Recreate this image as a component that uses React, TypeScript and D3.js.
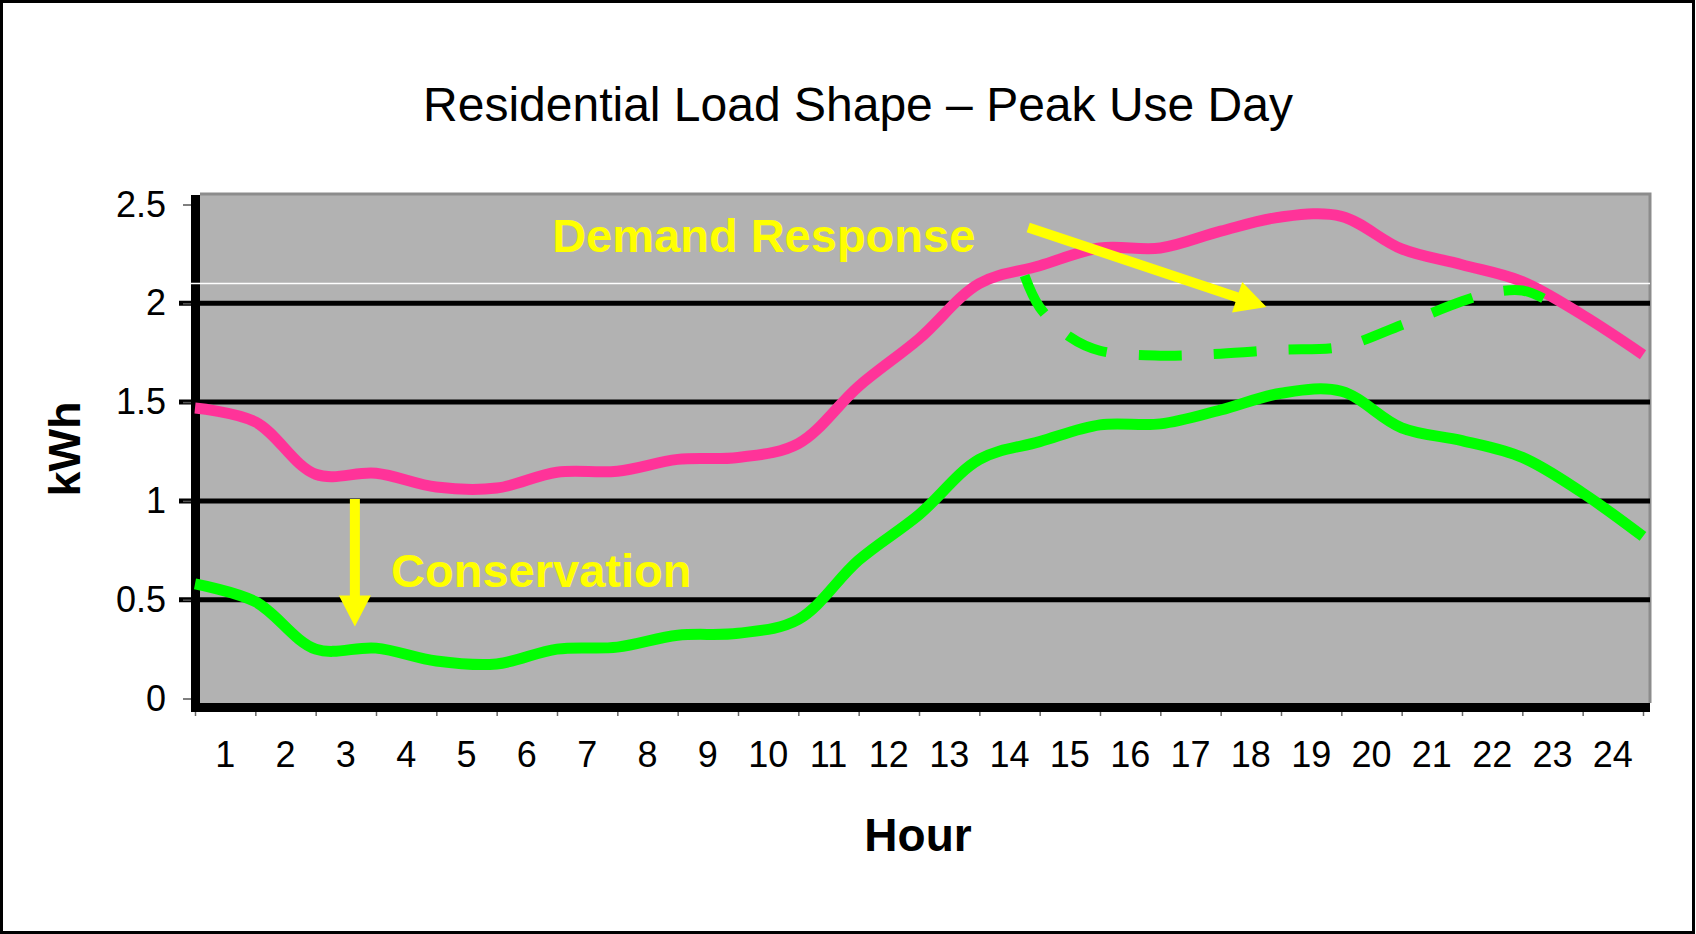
import * as d3 from "d3";
import { useEffect, useRef } from "react";

// hour boundaries (0 = midnight) and the hour-ending labels shown under the axis
const hourMarks = [0, 1, 2, 3, 4, 5, 6, 7, 8, 9, 10, 11, 12, 13, 14, 15, 16, 17, 18, 19, 20, 21, 22, 23, 24];
const hourLabels = ["1", "2", "3", "4", "5", "6", "7", "8", "9", "10", "11", "12", "13", "14", "15", "16", "17", "18", "19", "20", "21", "22", "23", "24"];

// typical peak-day load (pink) and the same day after conservation (green)
const baseLoad = [1.47, 1.4, 1.135, 1.14, 1.07, 1.065, 1.145, 1.15, 1.21, 1.22, 1.29, 1.58, 1.82, 2.1, 2.19, 2.28, 2.28, 2.365, 2.437, 2.44, 2.275, 2.195, 2.11, 1.94, 1.74];
const conservationLoad = [0.58, 0.49, 0.25, 0.255, 0.19, 0.175, 0.25, 0.26, 0.32, 0.33, 0.4, 0.7, 0.93, 1.21, 1.3, 1.385, 1.39, 1.46, 1.545, 1.555, 1.37, 1.305, 1.22, 1.04, 0.82];

// demand response (dashed) over the afternoon peak
const responseHours = [13.75, 14, 14.5, 15, 16, 17, 18, 19, 20, 21, 21.5, 22, 22.35];
const responseLoad = [2.14, 1.98, 1.83, 1.76, 1.735, 1.745, 1.765, 1.78, 1.89, 2.01, 2.055, 2.065, 2.025];

const yTicks = [0, 0.5, 1, 1.5, 2, 2.5];
const gridValues = [0.5, 1, 1.5, 2];
const strayRuleValue = 2.1;

const width = 1696;
const height = 934;
const font = "'Liberation Sans', Arial, Helvetica, sans-serif";

function arrowPath(x0: number, y0: number, x1: number, y1: number, shaft = 10, headLen = 31, headHalf = 16) {
  const dx = x1 - x0;
  const dy = y1 - y0;
  const len = Math.hypot(dx, dy);
  const ux = dx / len;
  const uy = dy / len;
  const px = -uy;
  const py = ux;
  const bx = x1 - ux * headLen;
  const by = y1 - uy * headLen;
  const s = shaft / 2;
  const pts = [
    [x0 + px * s, y0 + py * s],
    [bx + px * s, by + py * s],
    [bx + px * headHalf, by + py * headHalf],
    [x1, y1],
    [bx - px * headHalf, by - py * headHalf],
    [bx - px * s, by - py * s],
    [x0 - px * s, y0 - py * s],
  ];
  return "M" + pts.map((p) => p.join(",")).join("L") + "Z";
}

export default function App() {
  const ref = useRef<SVGSVGElement>(null);

  useEffect(() => {
    document.body.style.margin = "0";
    if (!ref.current) return;
    const svg = d3.select(ref.current);
    svg.selectAll("*").remove();

    const plotLeft = 200;
    const plotRight = 1650;
    const plotTop = 195;
    const plotBottom = 703;

    const x = d3.scaleLinear().domain([0, 24]).range([195, 1643]);
    const y = d3.scaleLinear().domain([0, 2.5]).range([698.5, 204.5]);

    svg.append("rect").attr("width", width).attr("height", height).attr("fill", "#fff");
    svg
      .append("rect")
      .attr("x", 1.5)
      .attr("y", 1.5)
      .attr("width", width - 4)
      .attr("height", height - 3)
      .attr("fill", "none")
      .attr("stroke", "#000")
      .attr("stroke-width", 3);

    // plot area
    svg
      .append("rect")
      .attr("x", plotLeft)
      .attr("y", plotTop)
      .attr("width", plotRight - plotLeft)
      .attr("height", plotBottom - plotTop)
      .attr("fill", "#b2b2b2");
    svg
      .append("path")
      .attr("d", `M${plotLeft},${plotTop - 1}H${plotRight}V${plotBottom}`)
      .attr("fill", "none")
      .attr("stroke", "#8c8c8c")
      .attr("stroke-width", 3);

    // heavy black gridlines
    svg
      .append("g")
      .selectAll("line")
      .data(gridValues)
      .join("line")
      .attr("x1", 179)
      .attr("x2", plotRight)
      .attr("y1", (d) => y(d))
      .attr("y2", (d) => y(d))
      .attr("stroke", "#000")
      .attr("stroke-width", 5);

    // thick axis bars
    svg.append("rect").attr("x", 191).attr("y", plotTop).attr("width", 9).attr("height", 712 - plotTop).attr("fill", "#000");
    svg.append("rect").attr("x", 191).attr("y", plotBottom).attr("width", plotRight - 191).attr("height", 9).attr("fill", "#000");

    // thin white rule across the plot
    svg
      .append("line")
      .attr("x1", 191)
      .attr("x2", plotRight)
      .attr("y1", y(strayRuleValue))
      .attr("y2", y(strayRuleValue))
      .attr("stroke", "#fff")
      .attr("stroke-width", 1.5);

    // y axis ticks + labels
    svg
      .append("g")
      .attr("transform", "translate(191,0)")
      .call(
        d3
          .axisLeft(y)
          .tickValues(yTicks)
          .tickSize(8)
          .tickPadding(17)
          .tickFormat((d) => String(d)),
      )
      .call((g) => g.select(".domain").remove())
      .call((g) => g.selectAll(".tick line").attr("stroke", "#555").attr("stroke-width", 1.5))
      .call((g) =>
        g.selectAll(".tick text").attr("font-size", 36).attr("font-family", font).attr("fill", "#000"),
      );

    // x axis ticks at hour boundaries
    svg
      .append("g")
      .attr("transform", "translate(0,712)")
      .call(
        d3
          .axisBottom(x)
          .tickValues(hourMarks)
          .tickSize(4)
          .tickFormat(() => ""),
      )
      .call((g) => g.select(".domain").remove())
      .call((g) => g.selectAll(".tick line").attr("stroke", "#666").attr("stroke-width", 1.5));

    svg
      .append("g")
      .selectAll("text")
      .data(hourLabels)
      .join("text")
      .attr("x", (_, i) => x(i + 0.5))
      .attr("y", 767)
      .attr("text-anchor", "middle")
      .attr("font-family", font)
      .attr("font-size", 36)
      .attr("fill", "#000")
      .text((d) => d);

    // series
    const line = d3
      .line<number>()
      .x((_, i) => x(hourMarks[i]))
      .y((d) => y(d))
      .curve(d3.curveCatmullRom.alpha(0.5));

    svg
      .append("path")
      .datum(baseLoad)
      .attr("d", line)
      .attr("fill", "none")
      .attr("stroke", "#ff3399")
      .attr("stroke-width", 11);

    svg
      .append("path")
      .datum(conservationLoad)
      .attr("d", line)
      .attr("fill", "none")
      .attr("stroke", "#00ff00")
      .attr("stroke-width", 11);

    const responseLine = d3
      .line<number>()
      .x((_, i) => x(responseHours[i]))
      .y((d) => y(d))
      .curve(d3.curveCatmullRom.alpha(0.5));

    svg
      .append("path")
      .datum(responseLoad)
      .attr("d", responseLine)
      .attr("fill", "none")
      .attr("stroke", "#00ff00")
      .attr("stroke-width", 10)
      .attr("stroke-dasharray", "43 32");

    // annotation arrows
    svg
      .append("path")
      .attr("d", arrowPath(x(2.65), y(1.01), x(2.65), y(0.365), 10, 31, 16))
      .attr("fill", "#ffff00");
    svg
      .append("path")
      .attr("d", arrowPath(x(13.81), y(2.384), x(17.76), y(1.981), 10, 31, 16))
      .attr("fill", "#ffff00");

    svg
      .append("text")
      .attr("x", x(5.92))
      .attr("y", y(2.262))
      .attr("font-family", font)
      .attr("font-size", 47)
      .attr("font-weight", "bold")
      .attr("fill", "#ffff00")
      .text("Demand Response");

    svg
      .append("text")
      .attr("x", x(3.25))
      .attr("y", y(0.564))
      .attr("font-family", font)
      .attr("font-size", 47)
      .attr("font-weight", "bold")
      .attr("fill", "#ffff00")
      .text("Conservation");

    // titles
    svg
      .append("text")
      .attr("x", 858)
      .attr("y", 121)
      .attr("text-anchor", "middle")
      .attr("font-family", font)
      .attr("font-size", 48)
      .attr("fill", "#000")
      .text("Residential Load Shape – Peak Use Day");

    svg
      .append("text")
      .attr("transform", "translate(80,449) rotate(-90)")
      .attr("text-anchor", "middle")
      .attr("font-family", font)
      .attr("font-size", 45)
      .attr("font-weight", "bold")
      .attr("fill", "#000")
      .text("kWh");

    svg
      .append("text")
      .attr("x", 918)
      .attr("y", 851)
      .attr("text-anchor", "middle")
      .attr("font-family", font)
      .attr("font-size", 46)
      .attr("font-weight", "bold")
      .attr("fill", "#000")
      .text("Hour");
  }, []);

  return <svg ref={ref} width={width} height={height} style={{ display: "block" }} />;
}
